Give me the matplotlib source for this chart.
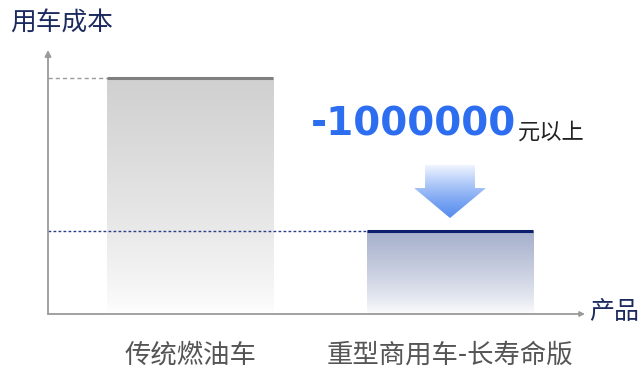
import numpy as np
import matplotlib.pyplot as plt
from matplotlib.colors import to_rgb
from matplotlib.patches import Polygon

plt.rcParams['font.family'] = ['Noto Sans CJK SC', 'DejaVu Sans']

# 两种车型的用车成本（元）
categories = ['传统燃油车', '重型商用车-长寿命版']
costs = [1540000, 540000]
saving = costs[0] - costs[1]
bar_tops = ['#d0d0d0', '#a6b0cc']
line_colors = ['#7f7f7f', '#0b1f6c']
dash_colors = ['#9a9a9a', '#2a3f86']

W, H = 641, 368
fig = plt.figure(figsize=(W / 100, H / 100), dpi=100)
ax = fig.add_axes([48 / W, 54 / H, 537 / W, 264 / H])

x = np.arange(len(categories))
bar_w = 0.64
x_left, x_right = -0.546, 1.519
y_top = 1725000


def vgrad(top_color, n=256, power=1.0):
    # 自下而上：白色 -> top_color
    t = np.linspace(0, 1, n) ** power
    top = np.array(to_rgb(top_color))
    rgb = (1 - t)[:, None] * np.ones(3) + t[:, None] * top
    return rgb[:, None, :]


# 渐变柱
for i, v in enumerate(costs):
    l, r = x[i] - bar_w / 2, x[i] + bar_w / 2
    ax.imshow(vgrad(bar_tops[i], power=0.75), extent=[l, r, 0, v], origin='lower',
              aspect='auto', interpolation='bicubic', zorder=1)
    ax.hlines(v, l, r, color=line_colors[i], lw=2.2, zorder=3)
    ax.hlines(v, x_left, l, color=dash_colors[i], lw=1.0,
              linestyles=(0, (3, 2.2)) if i == 0 else (0, (2, 1.6)), zorder=2)

# 下降箭头（渐变填充）
xc = x[1]
sw, hw = 0.096, 0.138
y0, y1, y2 = 974000, 823000, 627000
arrow = Polygon([(xc - sw, y0), (xc + sw, y0), (xc + sw, y1), (xc + hw, y1),
                 (xc, y2), (xc - hw, y1), (xc - sw, y1)], closed=True,
                facecolor='none', edgecolor='none')
ax.add_patch(arrow)
t = np.linspace(0, 1, 256) ** 1.3
c_top, c_bot = np.array(to_rgb('#f4f8ff')), np.array(to_rgb('#5a8fef'))
arrow_img = ((1 - t)[:, None] * c_bot + t[:, None] * c_top)[:, None, :]
im = ax.imshow(arrow_img, extent=[xc - hw, xc + hw, y2, y0], origin='lower',
               aspect='auto', interpolation='bicubic', zorder=2)
im.set_clip_path(arrow)

ax.set_xlim(x_left, x_right)
ax.set_ylim(0, y_top)

# 坐标轴（带箭头）
for s in ax.spines.values():
    s.set_visible(False)
ax.set_yticks([])
ax.set_xticks(x)
ax.set_xticklabels(categories)
ax.tick_params(axis='x', length=0, pad=20, labelsize=19, labelcolor='#555555')
ax.annotate('', xy=(0, 1), xytext=(0, 0), xycoords='axes fraction',
            arrowprops=dict(arrowstyle='-|>', color='#9a9a9a', lw=1.3,
                            mutation_scale=9, shrinkA=0, shrinkB=0))
ax.annotate('', xy=(1, 0), xytext=(0, 0), xycoords='axes fraction',
            arrowprops=dict(arrowstyle='-|>', color='#9a9a9a', lw=1.3,
                            mutation_scale=7, shrinkA=0, shrinkB=0))

fig.text(10 / W, 1 - 24 / H, '用车成本', fontsize=18.5, color='#1c2b5e', va='center')
fig.text(589 / W, 1 - 312 / H, '产品', fontsize=18, color='#1c2b5e', va='center')

num = fig.text(311 / W, 1 - 136 / H, f'-{saving}', fontsize=28, fontweight='bold',
               family='DejaVu Sans', color='#2d6ef0', va='baseline')
ax.annotate('元以上', xy=(1, 0), xytext=(1, 0), xycoords=num,
            textcoords='offset points', fontsize=16, color='#222222', va='bottom')

fig.savefig('out.png', dpi=100)
